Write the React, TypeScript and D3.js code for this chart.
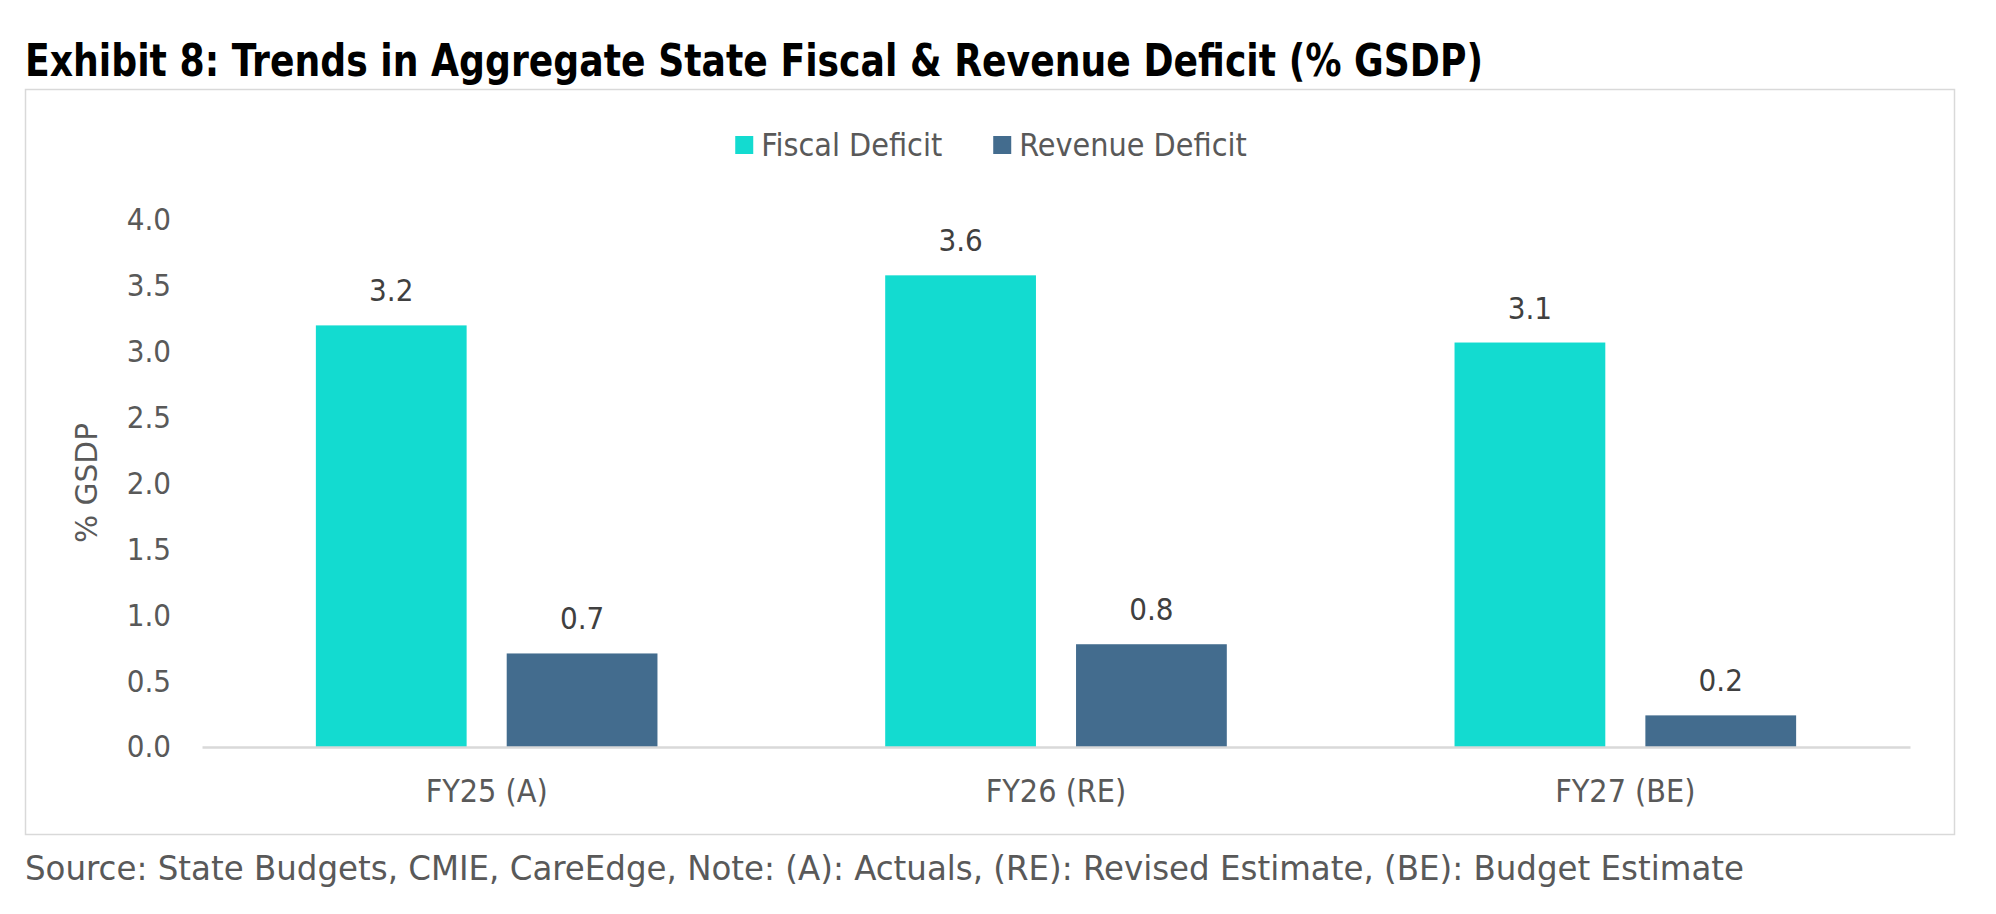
import { useEffect, useRef } from 'react';
import * as d3 from 'd3';

const categories = ['FY25 (A)', 'FY26 (RE)', 'FY27 (BE)'];
const seriesNames = ['Fiscal Deficit', 'Revenue Deficit'];
const fiscalDeficit = [3.2, 3.58, 3.07];
const revenueDeficit = [0.71, 0.78, 0.24];
const yTicks = [0, 0.5, 1, 1.5, 2, 2.5, 3, 3.5, 4];
const colors = ['#13DBD0', '#436C8E'];

const FONT = "'DejaVu Sans Condensed', 'DejaVu Sans', Tahoma, sans-serif";

const App = () => {
  const svgRef = useRef<SVGSVGElement>(null);

  useEffect(() => {
    const svg = d3.select(svgRef.current);
    svg.selectAll('*').remove();

    const width = 1996;
    const height = 914;
    const margin = { top: 220, right: 86, bottom: 167, left: 202 };
    const innerWidth = width - margin.left - margin.right;
    const innerHeight = height - margin.top - margin.bottom;

    svg.attr('width', width).attr('height', height).style('font-family', FONT);

    // white background + title
    svg.append('rect').attr('width', width).attr('height', height).attr('fill', '#fff');
    svg.append('text')
      .attr('x', 25)
      .attr('y', 76)
      .attr('font-size', 44)
      .attr('font-weight', 'bold')
      .attr('fill', '#000')
      .attr('textLength', 1458)
      .attr('lengthAdjust', 'spacingAndGlyphs')
      .text('Exhibit 8: Trends in Aggregate State Fiscal & Revenue Deficit (% GSDP)');

    // chart frame
    svg.append('rect')
      .attr('x', 25.5)
      .attr('y', 89.5)
      .attr('width', 1929)
      .attr('height', 745)
      .attr('fill', 'none')
      .attr('stroke', '#D9D9D9')
      .attr('stroke-width', 1.5);

    const data = categories.map((c, i) => ({
      category: c,
      values: [fiscalDeficit[i], revenueDeficit[i]],
    }));

    const x0 = d3.scaleBand()
      .domain(categories)
      .range([0, innerWidth])
      .paddingInner(0.4)
      .paddingOuter(0.2);

    const x1 = d3.scaleBand()
      .domain(seriesNames)
      .range([0, x0.bandwidth()])
      .paddingInner(0.21)
      .paddingOuter(0);

    const y = d3.scaleLinear().domain([0, 4]).range([innerHeight, 0]);

    const g = svg.append('g').attr('transform', `translate(${margin.left},${margin.top})`);

    // y axis
    const yAxis = g.append('g')
      .call(d3.axisLeft(y).tickValues(yTicks).tickSize(0).tickPadding(31).tickFormat(d3.format('.1f')));
    yAxis.select('.domain').remove();
    yAxis.selectAll('text')
      .attr('font-size', 31)
      .attr('font-family', FONT)
      .attr('fill', '#595959');

    // y axis title
    svg.append('text')
      .attr('transform', `translate(97,483) rotate(-90)`)
      .attr('text-anchor', 'middle')
      .attr('font-size', 31)
      .attr('fill', '#595959')
      .attr('textLength', 120)
      .attr('lengthAdjust', 'spacingAndGlyphs')
      .text('% GSDP');

    // bars
    const groups = g.selectAll('.grp')
      .data(data)
      .enter()
      .append('g')
      .attr('transform', d => `translate(${x0(d.category)},0)`);

    groups.selectAll('rect')
      .data(d => d.values.map((v, i) => ({ key: seriesNames[i], value: v, i })))
      .enter()
      .append('rect')
      .attr('x', d => x1(d.key)!)
      .attr('y', d => y(d.value))
      .attr('width', x1.bandwidth())
      .attr('height', d => innerHeight - y(d.value))
      .attr('fill', d => colors[d.i]);

    groups.selectAll('.lbl')
      .data(d => d.values.map((v, i) => ({ key: seriesNames[i], value: v })))
      .enter()
      .append('text')
      .attr('x', d => x1(d.key)! + x1.bandwidth() / 2)
      .attr('y', d => y(d.value) - 24)
      .attr('text-anchor', 'middle')
      .attr('font-size', 31)
      .attr('fill', '#404040')
      .text(d => d3.format('.1f')(d.value));

    // x axis
    const xAxis = g.append('g')
      .attr('transform', `translate(0,${innerHeight})`)
      .call(d3.axisBottom(x0).tickSize(0).tickPadding(32).tickSizeOuter(0));
    xAxis.select('.domain').attr('stroke', '#D9D9D9').attr('stroke-width', 2.5);
    xAxis.selectAll('text')
      .attr('font-size', 32)
      .attr('font-family', FONT)
      .attr('fill', '#595959');

    // legend
    const legend = svg.append('g');
    let lx = 0;
    seriesNames.forEach((name, i) => {
      const item = legend.append('g').attr('transform', `translate(${lx},0)`);
      item.append('rect').attr('x', 0).attr('y', 136).attr('width', 18).attr('height', 18).attr('fill', colors[i]);
      const t = item.append('text')
        .attr('x', 26)
        .attr('y', 156)
        .attr('font-size', 32)
        .attr('fill', '#595959')
        .text(name);
      const w = (t.node() as SVGTextElement).getComputedTextLength();
      lx += 26 + w + 51;
    });
    const legendWidth = lx - 51;
    legend.attr('transform', `translate(${991 - legendWidth / 2},0)`);

    // source note
    svg.append('text')
      .attr('x', 25)
      .attr('y', 880)
      .attr('font-size', 34)
      .attr('fill', '#595959')
      .attr('textLength', 1719)
      .attr('lengthAdjust', 'spacingAndGlyphs')
      .text('Source: State Budgets, CMIE, CareEdge, Note: (A): Actuals, (RE): Revised Estimate, (BE): Budget Estimate');
  }, []);

  return (
    <div style={{ position: 'absolute', left: 0, top: 0 }}>
      <svg ref={svgRef}></svg>
    </div>
  );
};

export default App;
